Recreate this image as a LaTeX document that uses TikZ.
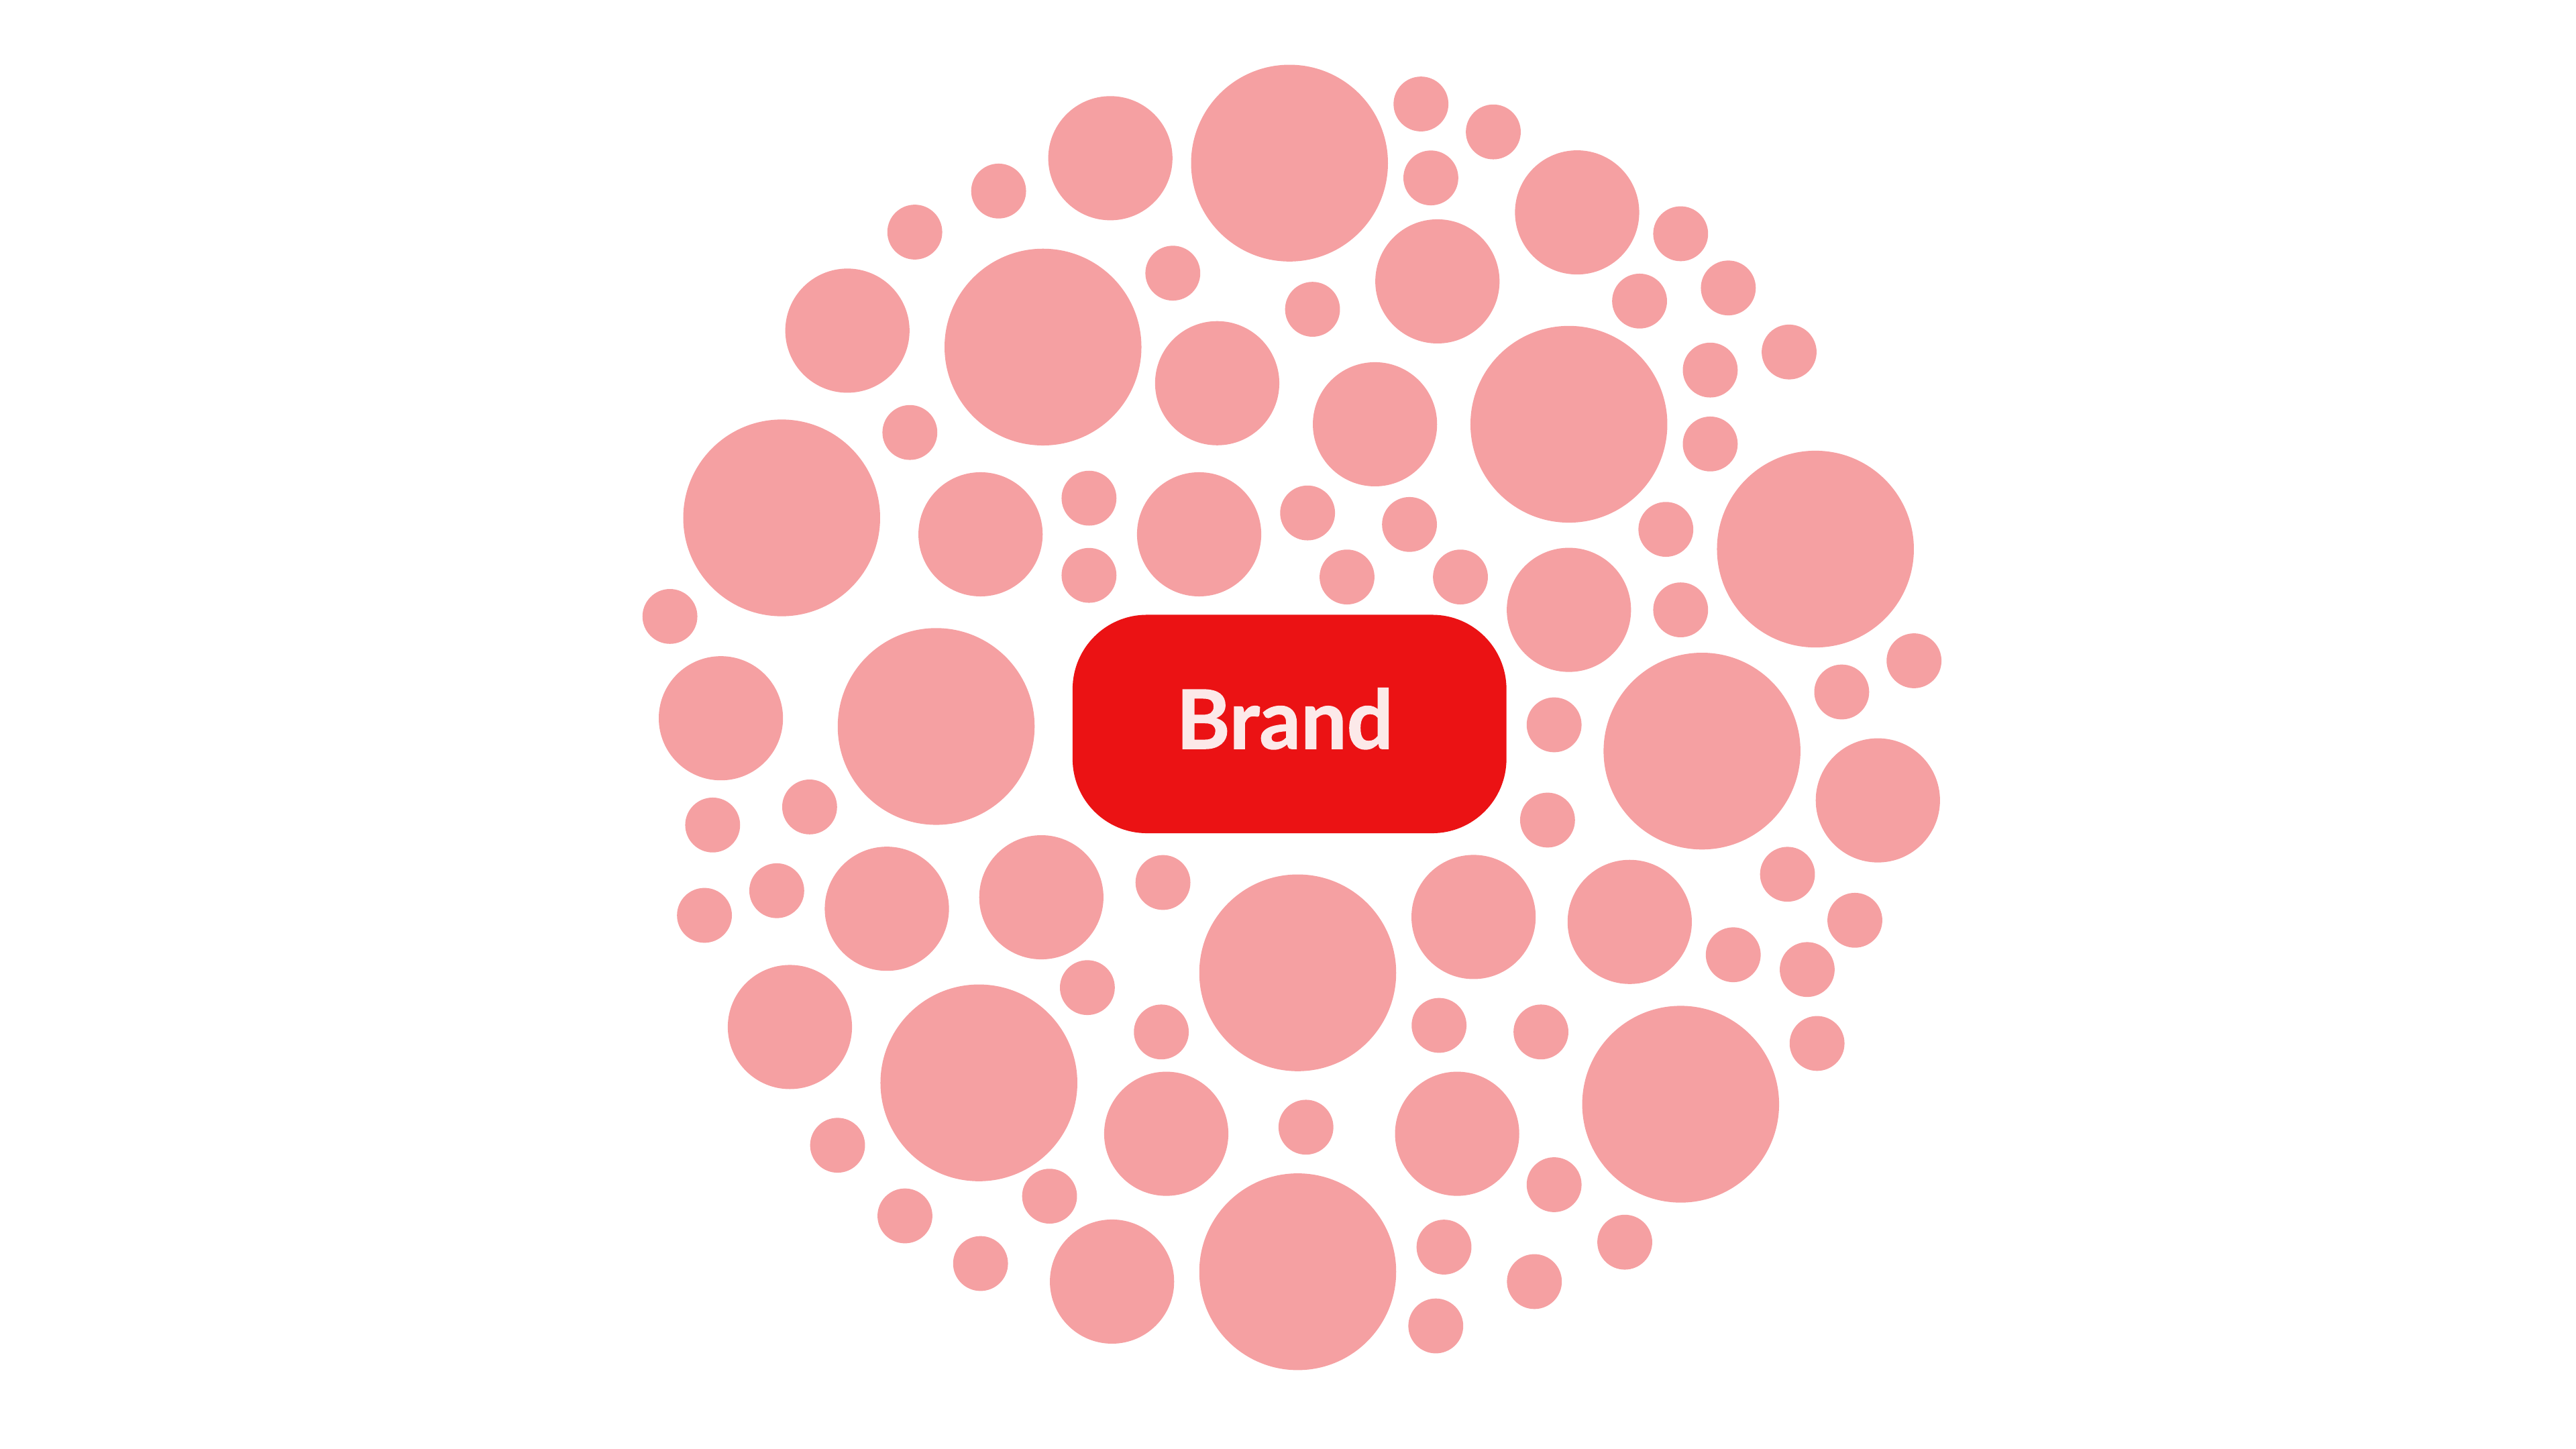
\documentclass[tikz,border=0pt]{standalone}
\usepackage{fontspec}
\usepackage{tikz}
\usetikzlibrary{positioning,calc}
\newfontfamily\brandfont{Lato}[BoldFeatures={FakeBold=1.2}]
\definecolor{bubblepink}{HTML}{F5A0A2}
\definecolor{brandred}{HTML}{EB1214}
\definecolor{brandtext}{HTML}{FCE9E9}

\begin{document}
\begin{tikzpicture}[x=0.1mm,y=-0.1mm,
    bubble/.style={fill=bubblepink},
    brandbox/.style={fill=brandred,rounded corners=4.5mm}]
    \useasboundingbox (0,0) rectangle (1560,877.5);
    \begin{scope}[shift={(0.63,1.33)},xscale=0.99525,yscale=0.9946]
    % big ones
    \foreach \x/\y in {784/98,634/210,954/257,475/314,1104/333,569/441,1035/456,789/591,595/658,1022/671,789/773}
        \fill[bubble] (\x,\y) circle[radius=5.99mm];
    % medium ones
    \foreach \x/\y in {675/95,959/128,515/200,874/170,740/232,836/257,596/324,729/324,954/370,438/436,1142/486,539/552,633/545,896/557,991/560,480/624,709/689,886/689,676/779}
        \fill[bubble] (\x,\y) circle[radius=3.78mm];
    % small ones
    \foreach \x/\y in {864/62,908/79,870/107,607/115,556/140,1022/141,713/165,1051/174,798/187,997/182,1088/213,1040/224,553/262,1040/269,662/302,795/311,857/318,1013/321,662/349,819/350,888/350,407/374,1022/370,1164/401,1120/420,945/440,433/501,492/490,941/498,707/536,1087/531,472/541,428/556,1128/559,661/600,1054/580,1099/589,706/627,875/623,937/627,1105/634,509/696,794/685,638/727,945/720,550/739,878/758,988/755,596/768,933/779,873/806}
        \fill[bubble] (\x,\y) circle[radius=1.67mm];
    \fill[brandbox] (652,373) rectangle (916,506);
    \end{scope}
    \node[anchor=base,inner sep=0pt] (brand) at (778,453.4) {\brandfont\bfseries\fontsize{14.06pt}{16pt}\selectfont\color{brandtext}Brand};
\end{tikzpicture}
\end{document}
